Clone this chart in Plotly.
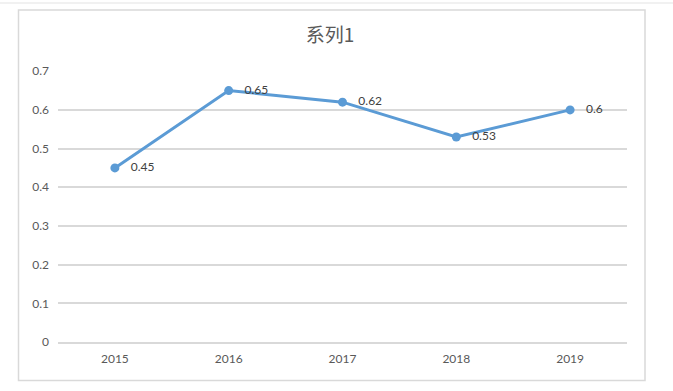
import plotly.graph_objects as go

years = ["2015", "2016", "2017", "2018", "2019"]
values = [0.45, 0.65, 0.62, 0.53, 0.6]
y_ticks = [0, 0.1, 0.2, 0.3, 0.4, 0.5, 0.6, 0.7]
title = "系列1"

W, H = 673, 391
ml, mr, mt, mb = 58, 46, 71, 49
pw, ph = W - ml - mr, H - mt - mb

def px_x(x):
    return (x - ml) / pw

def px_y(y):
    return (H - mb - y) / ph

FONT = "Lato, Open Sans, sans-serif"

fig = go.Figure()
fig.add_trace(go.Scatter(
    x=years, y=values, mode="lines+markers+text",
    line=dict(color="#5B9BD5", width=3),
    marker=dict(color="#5B9BD5", size=9),
    text=["\u00a0\u00a0\u00a0" + str(v) for v in values], textposition="middle right",
    textfont=dict(family=FONT, size=12, color="#404040"),
    cliponaxis=False,
    hoverinfo="skip",
))

fig.update_layout(
    width=W, height=H,
    margin=dict(l=ml, r=mr, t=mt, b=mb),
    paper_bgcolor="white", plot_bgcolor="white",
    showlegend=False,
    title=dict(text=title, x=330 / W, xanchor="center", y=1 - 35 / H, yanchor="middle",
               font=dict(family="Noto Sans CJK SC, Noto Sans, sans-serif", size=19, color="#595959")),
    xaxis=dict(type="category", range=[-0.5, 4.5], showgrid=False, showline=True,
               linecolor="#D9D9D9", linewidth=1.5, ticks="", zeroline=False,
               tickfont=dict(family=FONT, size=12, color="#595959"),
               ticklabelstandoff=5),
    yaxis=dict(range=[0, 0.7006], tickvals=y_ticks, ticktext=[f"{v:g}" for v in y_ticks],
               showgrid=True, gridcolor="#D9D9D9", gridwidth=1.5, zeroline=False,
               showline=False, ticks="",
               tickfont=dict(family=FONT, size=12, color="#595959"),
               ticklabelstandoff=8),
    shapes=[
        dict(type="rect", xref="paper", yref="paper",
             x0=px_x(18.5), x1=px_x(645), y0=px_y(380.5), y1=px_y(10),
             line=dict(color="#D9D9D9", width=1.5), fillcolor="rgba(0,0,0,0)", layer="below"),
        dict(type="line", xref="paper", yref="paper",
             x0=px_x(0), x1=px_x(673), y0=px_y(3), y1=px_y(3),
             line=dict(color="#E3E3E3", width=1)),
    ],
)

fig.write_html("out.html", config={"displayModeBar": False},
               post_script="document.body.style.margin='0';document.body.style.overflow='hidden';")
